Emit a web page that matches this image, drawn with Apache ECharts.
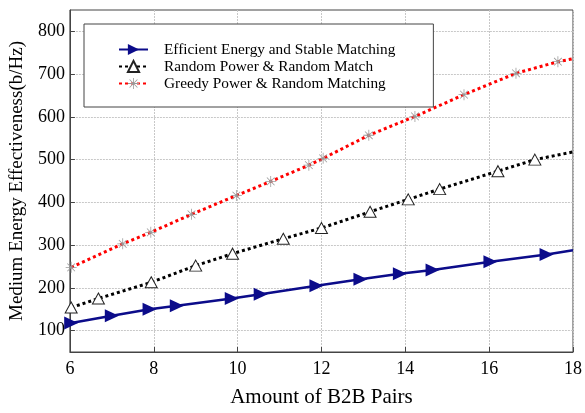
<!DOCTYPE html>
<html>
<head>
<meta charset="utf-8">
<script src="https://cdn.jsdelivr.net/npm/echarts@6/dist/echarts.min.js"></script>
<style>
  html, body { margin: 0; padding: 0; background: #fff; }
  #main { width: 585px; height: 413px; }
</style>
</head>
<body>
<div id="main"></div>
<script>
// x positions of the marked points (B2B pairs)
const effX = [6.03, 7.0, 7.9, 8.55, 9.86, 10.55, 11.88, 12.93, 13.87, 14.65, 16.03, 17.37, 18];
const effY = [118, 135, 150, 158, 175, 185, 205, 220, 233, 242, 261, 278, 288];

const randX = [6.03, 6.68, 7.94, 9.0, 9.88, 11.09, 12.0, 13.16, 14.07, 14.82, 16.21, 17.09, 18];
const randY = [154, 175, 213, 252, 280, 315, 340, 378, 407, 431, 473, 500, 518];

const greedyX = [6.03, 7.26, 7.93, 8.9, 9.97, 10.79, 11.7, 12.04, 13.13, 14.23, 15.4, 16.64, 17.64, 18];
const greedyY = [248, 303, 330, 372, 416, 449, 487, 503, 557, 601, 652, 702, 729, 736];

const yTicks = [100, 200, 300, 400, 500, 600, 700, 800];
const names = [
  'Efficient Energy and Stable Matching',
  'Random Power & Random Match',
  'Greedy Power & Random Matching'
];

const asterisk = 'path://M9.3 0L10.7 0L10.7 20L9.3 20ZM0 9.3L20 9.3L20 10.7L0 10.7ZM2.5 3.5L3.5 2.5L17.5 16.5L16.5 17.5ZM16.5 2.5L17.5 3.5L3.5 17.5L2.5 16.5Z';

// last point only carries the line to the right edge, no marker
const pairs = (xs, ys) => xs.map((x, i) =>
  i === xs.length - 1 ? { value: [x, ys[i]], symbolSize: 0 } : [x, ys[i]]);

const chart = echarts.init(document.getElementById('main'));
const font = 'Liberation Serif';

chart.setOption({
  animation: false,
  backgroundColor: '#fff',
  grid: { left: 67, right: 8, top: 10, bottom: 54, show: true, borderColor: '#444', borderWidth: 1 },
  legend: {
    data: names,
    orient: 'vertical',
    left: 84,
    top: 24,
    padding: [18, 38, 16, 34],
    itemGap: 2,
    itemWidth: 29,
    itemHeight: 14,
    backgroundColor: '#fff',
    borderColor: '#444',
    borderWidth: 1,
    borderRadius: 0,
    textStyle: { fontFamily: font, fontSize: 15.3, color: '#000', padding: [0, 0, 0, 11] }
  },
  xAxis: {
    type: 'value',
    min: 6,
    max: 18,
    interval: 2,
    name: 'Amount of B2B Pairs',
    nameLocation: 'middle',
    nameGap: 35,
    nameTextStyle: { fontFamily: font, fontSize: 21, color: '#000' },
    axisLine: { lineStyle: { color: '#444' } },
    axisTick: { inside: true, length: 5, lineStyle: { color: '#444' } },
    axisLabel: { fontFamily: font, fontSize: 18, color: '#000', margin: 8 },
    splitLine: { lineStyle: { color: '#c8c8c8', type: [2, 1] } }
  },
  yAxis: {
    type: 'value',
    min: 50,
    max: 850,
    name: 'Medium Energy Effectiveness(b/Hz)',
    nameLocation: 'middle',
    nameGap: 38,
    nameTextStyle: { fontFamily: font, fontSize: 19, color: '#000' },
    axisLine: { show: true, lineStyle: { color: '#444' } },
    axisTick: { show: true, inside: true, length: 5, customValues: yTicks, lineStyle: { color: '#444' } },
    axisLabel: { fontFamily: font, fontSize: 18, color: '#000', margin: 5, customValues: yTicks },
    splitLine: { lineStyle: { color: '#c8c8c8', type: [2, 1] } }
  },
  series: [
    {
      name: names[0],
      type: 'line',
      data: pairs(effX, effY),
      symbol: 'triangle',
      symbolRotate: -90,
      symbolSize: [13, 14],
      color: '#0c0c8a',
      lineStyle: { width: 2.5, color: '#0c0c8a' },
      itemStyle: { color: '#0c0c8a' },
      z: 3
    },
    {
      name: names[1],
      type: 'line',
      data: pairs(randX, randY),
      symbol: 'triangle',
      symbolSize: [12, 11],
      showAllSymbol: true,
      color: '#000',
      lineStyle: { width: 3, color: '#000', type: [3, 3] },
      itemStyle: { color: '#fff', borderColor: '#222', borderWidth: 1 },
      z: 2
    },
    {
      name: names[2],
      type: 'line',
      data: pairs(greedyX, greedyY),
      symbol: asterisk,
      symbolSize: 11,
      showAllSymbol: true,
      color: '#ff0000',
      lineStyle: { width: 3, color: '#ff0000', type: [3, 3] },
      itemStyle: { color: '#999' },
      z: 2
    }
  ]
});
</script>
</body>
</html>
